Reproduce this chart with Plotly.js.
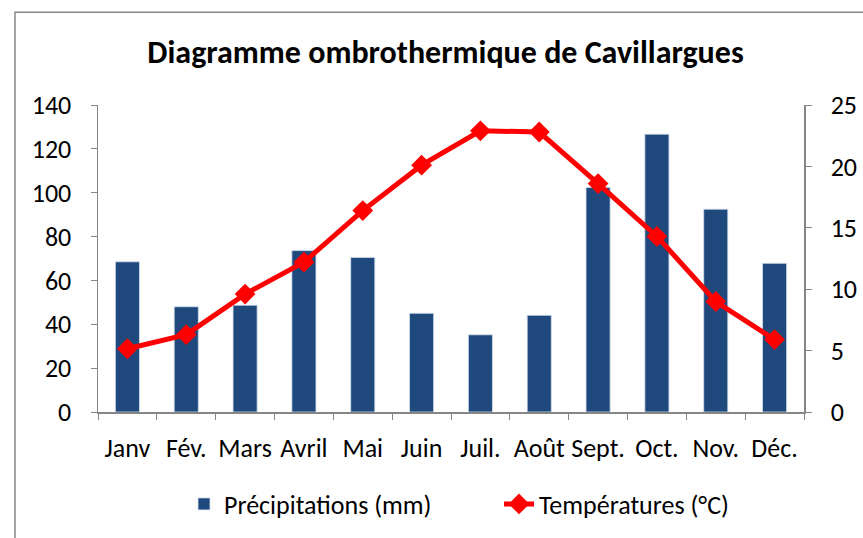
<!DOCTYPE html>
<html><head><meta charset="utf-8">
<script src="https://cdn.plot.ly/plotly-3.0.1.min.js"></script>
<style>html,body{margin:0;padding:0;background:#fff;}</style>
</head><body>
<div id="chart" style="width:863px;height:538px;"></div>
<script>
const months = ["Janv","Fév.","Mars","Avril","Mai","Juin","Juil.","Août","Sept.","Oct.","Nov.","Déc."];
const precipitations = [68.5,48,48.7,73.6,70.5,45,35.2,44.1,102.4,126.7,92.5,67.8];
const temperatures = [5.15,6.3,9.6,12.2,16.4,20.1,22.9,22.8,18.6,14.3,9.0,5.9];
const FONT = 'Carlito, "Open Sans", sans-serif';
const data = [
  {type:'bar', x:months, y:precipitations, name:'Précipitations (mm)',
   marker:{color:'#1F497D', line:{color:'#D6E0EE', width:0.8}}, yaxis:'y'},
  {type:'scatter', mode:'lines+markers', x:months, y:temperatures, name:'Températures (°C)',
   line:{color:'#FF0000', width:5}, marker:{symbol:'diamond', size:16, color:'#FF0000'}, yaxis:'y2'}
];
const layout = {
  width:863, height:538,
  margin:{l:98, r:59, t:105, b:125},
  paper_bgcolor:'#fff', plot_bgcolor:'#fff',
  font:{family:FONT, size:26, color:'#000'},
  title:{text:'<b>Diagramme ombrothermique de Cavillargues</b>', font:{family:FONT, size:32, color:'#000'},
         xref:'container', x:(148+743)/2/863, xanchor:'center', yref:'container', y:1-52/538, yanchor:'middle'},
  bargap:0.59,
  showlegend:true,
  legend:{orientation:'h', x:(184-98)/706, xanchor:'left', y:(413-504)/308, yanchor:'middle',
          font:{family:FONT, size:26, color:'#000'}, entrywidth:270, entrywidthmode:'pixels', tracegroupgap:0},
  xaxis:{type:'category', range:[-0.5, months.length-0.5], autorange:false, showline:true, linecolor:'#868686', linewidth:1.5,
         ticks:'outside', tickson:'boundaries', ticklen:6, tickcolor:'#868686', showgrid:false, zeroline:false,
         ticklabelstandoff:12, tickangle:0},
  yaxis:{range:[0,140], dtick:20, showline:true, linecolor:'#868686', linewidth:1.5, ticks:'outside', ticklen:6,
         tickcolor:'#868686', showgrid:false, zeroline:false, ticklabelstandoff:14},
  yaxis2:{range:[0,25], dtick:5, overlaying:'y', side:'right', showline:true, linecolor:'#868686', linewidth:1.5,
          ticks:'outside', ticklen:6, tickcolor:'#868686', showgrid:false, zeroline:false, ticklabelstandoff:14},
  shapes:[{type:'rect', xref:'paper', yref:'paper', x0:(15-98)/706, x1:1.2, y0:-0.6, y1:(413-12)/308,
           line:{color:'#868686', width:1.5}, fillcolor:'rgba(0,0,0,0)', layer:'below'}]
};
Plotly.newPlot('chart', data, layout, {displayModeBar:false, staticPlot:true});
</script>
</body></html>
